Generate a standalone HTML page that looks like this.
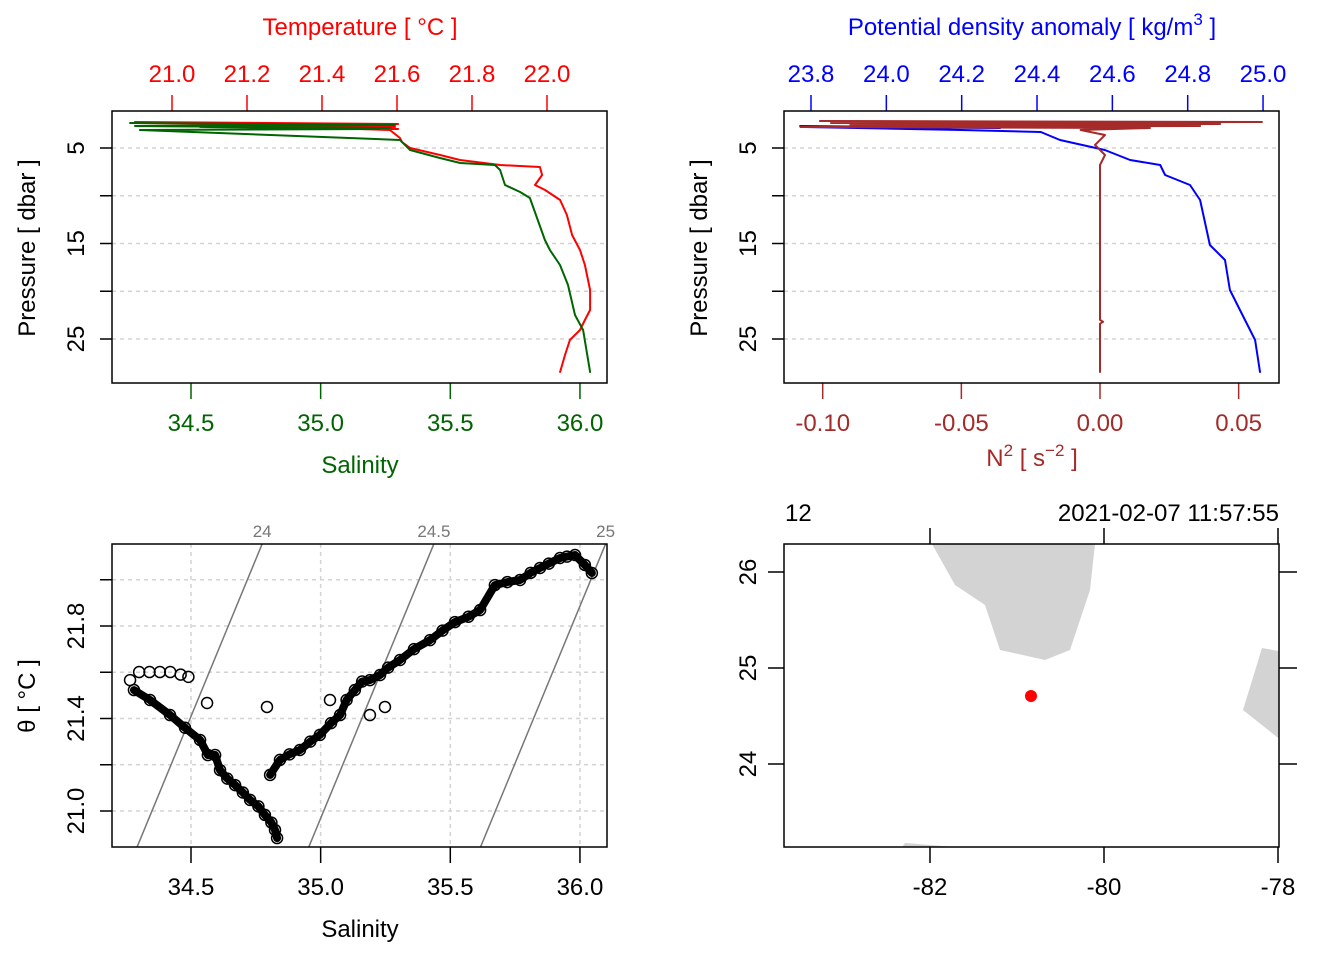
<!DOCTYPE html>
<html><head><meta charset="utf-8"><style>
html,body{margin:0;padding:0;background:#fff}
svg{display:block;font-family:"Liberation Sans",sans-serif}
</style></head><body>
<svg id="s" width="1344" height="960" xmlns="http://www.w3.org/2000/svg"></svg>
<script>
// ---- Profile data ----
const tPres=[2.28,2.49,2.70,2.80,2.91,3.01,2.80,3.12,3.95,4.37,5.0,5.73,6.26,6.78,6.99,7.83,8.87,9.40,10.45,12.02,14.11,15.68,17.25,19.87,21.96,23.01,24.06,25.1,26.68,28.46];
const tempVals=[20.901,21.603,20.915,21.595,21.208,21.603,21.341,21.581,21.608,21.613,21.635,21.715,21.768,21.875,21.981,21.987,21.968,21.995,22.035,22.053,22.067,22.088,22.101,22.115,22.115,22.101,22.088,22.061,22.048,22.035];
const sPres=[2.38,2.59,2.70,2.91,2.80,3.01,3.12,4.16,5.21,6.05,6.57,6.78,7.30,8.87,9.61,10.24,14.63,15.68,17.25,19.35,22.49,24.06,28.46];
const salVals=[34.265,35.287,34.284,35.267,34.535,35.229,34.303,35.306,35.345,35.46,35.538,35.672,35.692,35.711,35.769,35.807,35.865,35.884,35.923,35.954,35.981,36.012,36.039];
const dPres=[2.7,2.91,2.8,3.12,3.32,4.16,5.21,6.26,6.78,7.83,8.87,10.45,15.16,16.73,19.87,23.01,25.1,28.46];
const sigVals=[23.771,24.302,23.785,24.2,24.41,24.461,24.58,24.647,24.727,24.74,24.806,24.833,24.859,24.899,24.912,24.952,24.979,24.992];
const nPres=[2.17,2.28,2.38,2.49,2.59,2.70,2.80,2.91,3.12,3.64,4.68,5.73,6.78,18.0,23.0,23.2,23.4,28.46];
const n2Vals=[-0.101,0.0584,-0.097,0.0433,-0.090,0.0361,-0.108,0.018,-0.007,0.0018,-0.0018,0.0018,0,0,0,0.0011,0,0];
// ---- T-S data ----
const tsSal=[34.265,34.30,34.34,34.38,34.42,34.46,34.49,34.28,34.342,34.419,34.477,34.535,34.565,34.593,34.612,34.64,34.670,34.70,34.728,34.76,34.785,34.81,34.824,34.832,34.805,34.843,34.88,34.920,34.96,34.997,35.04,35.075,35.10,35.132,35.16,35.190,35.229,35.26,35.306,35.36,35.422,35.47,35.518,35.57,35.615,35.672,35.72,35.769,35.81,35.846,35.88,35.923,35.95,35.981,36.019,36.046,34.562,34.793,35.036,35.190,35.248];
const tsTheta=[21.566,21.601,21.601,21.601,21.601,21.59,21.58,21.523,21.48,21.415,21.36,21.307,21.242,21.242,21.177,21.14,21.112,21.08,21.048,21.02,20.983,20.95,20.918,20.883,21.156,21.221,21.245,21.264,21.30,21.329,21.38,21.415,21.48,21.523,21.56,21.566,21.588,21.62,21.653,21.70,21.739,21.78,21.817,21.84,21.869,21.977,21.99,21.999,22.03,22.051,22.07,22.094,22.10,22.107,22.064,22.029,21.467,21.45,21.48,21.415,21.45];
const isoLevels=[24,24.5,25];
// ---- Map data ----
const landA_lon=[-82.1,-81.977,-81.713,-81.368,-81.195,-80.678,-80.391,-80.161,-80.103,-80.05];
const landA_lat=[26.5,26.292,25.865,25.656,25.188,25.083,25.188,25.813,26.292,26.5];
const landB_lon=[-78.184,-77.9,-77.9,-78.402];
const landB_lat=[25.208,25.16,24.2,24.5625];
const landC_lon=[-82.345,-82.287,-81.713,-81.7];
const landC_lat=[23.1,23.177,23.135,23.1];
const stationLon=[-80.839], stationLat=[24.708];
const pTicks=[5,10,15,20,25], pLabels=["5","","15","","25"];
const tTicks=[21.0,21.2,21.4,21.6,21.8,22.0];
const sTicks=[34.5,35.0,35.5,36.0];
const sigTicks=[23.8,24.0,24.2,24.4,24.6,24.8,25.0];
const n2Ticks=[-0.10,-0.05,0.00,0.05];
const thTicks=[21.0,21.2,21.4,21.6,21.8,22.0], thLabels=["21.0","","21.4","","21.8",""];
const lonTicks=[-82,-80,-78], latTicks=[24,25,26];

const S=document.getElementById('s'),NS='http://www.w3.org/2000/svg';
function E(tag,at,parent,txt){const e=document.createElementNS(NS,tag);for(const k in at)e.setAttribute(k,at[k]);if(txt!==undefined)e.textContent=txt;(parent||S).appendChild(e);return e;}
const pY=p=>148+(p-5)*9.55;
const tX=t=>172+(t-21)*375;
const sX=s=>191+(s-34.5)*259.3;
const sigX=v=>811+(v-23.8)*376.7;
const nX=v=>1100+v*2773;
const thY=t=>811-(t-21)*231.25;
const lonX=l=>930+(l+82)*87;
const latY=l=>572-(l-26)*96;
function clip(id,x,y,w,h){const c=E('clipPath',{id:id});E('rect',{x:x,y:y,width:w,height:h},c);}
clip('c1',112,111,495,272);clip('c2',784,111,495,272);clip('c3',112,544,495,303);clip('c4',784,544,495,303);
function txt(x,y,s,col,name,anchor,rot,parent){const at={x:x,y:y,fill:col,'font-size':24,'text-anchor':anchor||'middle'};if(rot)at.transform='rotate(-90 '+x+' '+y+')';const t=E('text',at,parent,s);return t;}
function grid(x1,y1,x2,y2,g){E('line',{x1:x1,y1:y1,x2:x2,y2:y2,stroke:'#d3d3d3','stroke-width':1.5,'stroke-dasharray':'4,4'},g);}
function poly(xs,ys,fx,fy,col,name,clipId,w){let d='';for(let i=0;i<xs.length;i++)d+=(i?'L':'M')+fx(xs[i]).toFixed(1)+','+fy(ys[i]).toFixed(1);const p=E('path',{d:d,fill:'none',stroke:col,'stroke-width':w||2,'stroke-linejoin':'round','stroke-linecap':'round','clip-path':'url(#'+clipId+')'});}

// ===== Panel 1 =====
let g=E('g',{});
pTicks.forEach((p,i)=>{grid(112,pY(p),607,pY(p),g);E('line',{x1:112,y1:pY(p),x2:100,y2:pY(p),stroke:'#000','stroke-width':1.5},g);if(pLabels[i])txt(84,pY(p),pLabels[i],'#000','pressure-tick-label','middle',true,g);});
tTicks.forEach(t=>{E('line',{x1:tX(t),y1:111,x2:tX(t),y2:95,stroke:'red','stroke-width':1.5},g);txt(tX(t),82,t.toFixed(1),'red','temperature-tick-label','middle',false,g);});
sTicks.forEach(s=>{E('line',{x1:sX(s),y1:383,x2:sX(s),y2:399,stroke:'#006400','stroke-width':1.5},g);txt(sX(s),431,s.toFixed(1),'#006400','salinity-tick-label','middle',false,g);});
poly(tempVals,tPres,tX,pY,'red','temperature-line','c1');
poly(salVals,sPres,sX,pY,'#006400','salinity-line','c1');
E('rect',{x:112,y:111,width:495,height:272,fill:'none',stroke:'#000','stroke-width':1.5},g);
txt(360,35,'Temperature [ °C ]','red','temperature-axis-title','middle',false,g);
txt(360,473,'Salinity','#006400','salinity-axis-title','middle',false,g);
txt(35,248,'Pressure [ dbar ]','#000','pressure-axis-title','middle',true,g);

// ===== Panel 2 =====
g=E('g',{});
pTicks.forEach((p,i)=>{grid(784,pY(p),1279,pY(p),g);E('line',{x1:784,y1:pY(p),x2:772,y2:pY(p),stroke:'#000','stroke-width':1.5},g);if(pLabels[i])txt(756,pY(p),pLabels[i],'#000','pressure-tick-label','middle',true,g);});
sigTicks.forEach(t=>{E('line',{x1:sigX(t),y1:111,x2:sigX(t),y2:95,stroke:'blue','stroke-width':1.5},g);txt(sigX(t),82,t.toFixed(1),'blue','density-tick-label','middle',false,g);});
n2Ticks.forEach(t=>{E('line',{x1:nX(t),y1:383,x2:nX(t),y2:399,stroke:'brown','stroke-width':1.5},g);txt(nX(t),431,t.toFixed(2),'brown','n2-tick-label','middle',false,g);});
poly(sigVals,dPres,sigX,pY,'blue','density-line','c2');
poly(n2Vals,nPres,nX,pY,'brown','n2-line','c2');
E('rect',{x:784,y:111,width:495,height:272,fill:'none',stroke:'#000','stroke-width':1.5},g);
let t1=E('text',{x:1032,y:35,fill:'blue','font-size':24,'text-anchor':'middle'},g);
t1.innerHTML='Potential density anomaly [ kg/m<tspan dy="-10" font-size="17">3</tspan><tspan dy="10"> ]</tspan>';
let t2=E('text',{x:1032,y:466,fill:'brown','font-size':24,'text-anchor':'middle'},g);
t2.innerHTML='N<tspan dy="-10" font-size="17">2</tspan><tspan dy="10"> [ s</tspan><tspan dy="-10" font-size="17">−2</tspan><tspan dy="10"> ]</tspan>';
txt(707,248,'Pressure [ dbar ]','#000','pressure-axis-title','middle',true,g);

// ===== Panel 3 =====
g=E('g',{});
sTicks.forEach(s=>{grid(sX(s),544,sX(s),847,g);E('line',{x1:sX(s),y1:847,x2:sX(s),y2:863,stroke:'#000','stroke-width':1.5},g);txt(sX(s),895,s.toFixed(1),'#000','salinity-tick-label','middle',false,g);});
thTicks.forEach((t,i)=>{grid(112,thY(t),607,thY(t),g);E('line',{x1:112,y1:thY(t),x2:100,y2:thY(t),stroke:'#000','stroke-width':1.5},g);if(thLabels[i])txt(84,thY(t),thLabels[i],'#000','theta-tick-label','middle',true,g);});
const isoS=(sig,th)=>34.292+(sig-24)/0.755+0.368*(th-20.844);
isoLevels.forEach(sig=>{const a=isoS(sig,20.844),b=isoS(sig,22.155);
 const l=E('line',{x1:sX(a),y1:thY(20.844),x2:sX(b),y2:thY(22.155),stroke:'#777','stroke-width':1.5,'clip-path':'url(#c3)'},g);
 const lt=E('text',{x:sX(b),y:537,fill:'#777','font-size':17,'text-anchor':'middle'},g,String(sig));});
const pg=E('g',{'clip-path':'url(#c3)'},g);
// trace under circles mimicking densely overlapped markers
poly(tsSal.slice(7,24),tsTheta.slice(7,24),sX,thY,'#000','ts-trace','c3',8);
poly(tsSal.slice(24,56),tsTheta.slice(24,56),sX,thY,'#000','ts-trace','c3',8);
tsSal.forEach((s,i)=>{const c=E('circle',{cx:sX(s),cy:thY(tsTheta[i]),r:5.5,fill:'none',stroke:'#000','stroke-width':1.5},pg);});
E('rect',{x:112,y:544,width:495,height:303,fill:'none',stroke:'#000','stroke-width':1.5},g);
txt(360,937,'Salinity','#000','salinity-axis-title','middle',false,g);
txt(35,696,'θ [ °C ]','#000','theta-axis-title','middle',true,g);

// ===== Panel 4 =====
g=E('g',{});
[[landA_lon,landA_lat,'land-florida'],[landB_lon,landB_lat,'land-bahamas'],[landC_lon,landC_lat,'land-cuba']].forEach(L=>{let d='';L[0].forEach((v,i)=>d+=(i?'L':'M')+lonX(v).toFixed(1)+','+latY(L[1][i]).toFixed(1));const p=E('path',{d:d+'Z',fill:'#d3d3d3',stroke:'none','clip-path':'url(#c4)'},g);});
stationLon.forEach((l,i)=>{const c=E('circle',{cx:lonX(l),cy:latY(stationLat[i]),r:6,fill:'red'},g);});
lonTicks.forEach(l=>{E('line',{x1:lonX(l),y1:847,x2:lonX(l),y2:863,stroke:'#000','stroke-width':1.5},g);E('line',{x1:lonX(l),y1:544,x2:lonX(l),y2:528,stroke:'#000','stroke-width':1.5},g);txt(lonX(l),895,String(l),'#000','longitude-tick-label','middle',false,g);});
latTicks.forEach(l=>{E('line',{x1:784,y1:latY(l),x2:768,y2:latY(l),stroke:'#000','stroke-width':1.5},g);E('line',{x1:1279,y1:latY(l),x2:1297,y2:latY(l),stroke:'#000','stroke-width':1.5},g);txt(756,latY(l),String(l),'#000','latitude-tick-label','middle',true,g);});
E('rect',{x:784,y:544,width:495,height:303,fill:'none',stroke:'#000','stroke-width':1.5},g);
txt(785,521,'12','#000','station-id','start',false,g);
txt(1279,521,'2021-02-07 11:57:55','#000','station-time','end',false,g);
</script>
</body></html>
